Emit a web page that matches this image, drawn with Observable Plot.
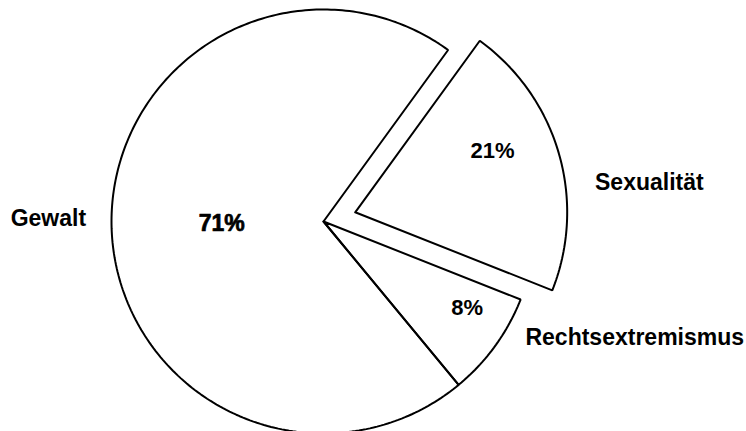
<!DOCTYPE html>
<html>
<head>
<meta charset="utf-8">
<script src="https://cdn.jsdelivr.net/npm/d3@7"></script>
<script src="https://cdn.jsdelivr.net/npm/@observablehq/plot@0.6"></script>
<style>
  html, body { margin: 0; padding: 0; background: #fff; }
  #chart svg { display: block; background: #fff; }
</style>
</head>
<body>
<div id="chart"></div>
<script>
// ---- data ----
const categories = ["Gewalt", "Sexualität", "Rechtsextremismus"];
const values = [71, 21, 8];
const percentLabels = ["71%", "21%", "8%"];

// ---- layout (not data) ----
const W = 746, H = 431;
const R = 212;                 // pie radius in scale units (= px)
const startDeg = 140.4;        // clockwise from north, where the first slice begins
const explode = {"Sexualität": 33};
const innerLabel = {           // radius fraction, angle shift (deg) from slice middle
  "Gewalt": [0.48, 0.8],
  "Sexualität": [0.71, -8],
  "Rechtsextremismus": [0.79, -5]
};
const outerLabel = {           // radius fraction, angle shift, anchor
  "Gewalt": [1.12, 2.6, "end"],
  "Sexualität": [1.14, 9.1, "start"],
  "Rechtsextremismus": [1.10, -6, "start"]
};

const rad = d => d * Math.PI / 180;
const pie = d3.pie().sort(null).value(d => d.value).startAngle(rad(startDeg)).endAngle(rad(startDeg + 360));
const arcs = pie(categories.map((name, i) => ({name, value: values[i], label: percentLabels[i]})));

const polar = (a, r) => [r * Math.sin(a), r * Math.cos(a)];

const outline = [];
const inner = [];
const outer = [];
for (const a of arcs) {
  const name = a.data.name;
  const mid = (a.startAngle + a.endAngle) / 2;
  const [ox, oy] = polar(mid, explode[name] || 0);
  outline.push({name, x: ox, y: oy});
  const steps = Math.max(2, Math.ceil((a.endAngle - a.startAngle) / rad(1)));
  for (let k = 0; k <= steps; k++) {
    const t = a.startAngle + (a.endAngle - a.startAngle) * k / steps;
    const [px, py] = polar(t, R);
    outline.push({name, x: ox + px, y: oy + py});
  }
  outline.push({name, x: ox, y: oy});
  const [ir, ishift] = innerLabel[name];
  const [ix, iy] = polar(mid + rad(ishift), R * ir);
  inner.push({name, x: ox + ix, y: oy + iy, text: a.data.label});
  const [orr, oshift, anchor] = outerLabel[name];
  const [tx, ty] = polar(mid + rad(oshift), R * orr);
  outer.push({name, x: ox + tx, y: oy + ty, text: name, anchor});
}

const font = "'Liberation Sans', Arial, sans-serif";
const chart = Plot.plot({
  width: W,
  height: H,
  margin: 0,
  x: {type: "linear", domain: [-323, W - 323], axis: null},
  y: {type: "linear", domain: [-(H - 221), 221], axis: null},
  style: {background: "#fff", fontFamily: font},
  marks: [
    Plot.line(outline, {x: "x", y: "y", z: "name", stroke: "#000", strokeWidth: 2, fill: "none", strokeLinejoin: "miter", curve: "linear"}),
    Plot.text(inner.filter(d => d.name === "Gewalt"), {x: "x", y: "y", text: "text", fontSize: 23, fontWeight: 900, stroke: "#000", strokeWidth: 0.7, fill: "#000"}),
    Plot.text(inner.filter(d => d.name !== "Gewalt"), {x: "x", y: "y", text: "text", fontSize: 22, fontWeight: "bold", fill: "#000"}),
    Plot.text(outer.filter(d => d.anchor === "end"), {x: "x", y: "y", text: "text", textAnchor: "end", fontSize: 23, fontWeight: "bold", fill: "#000"}),
    Plot.text(outer.filter(d => d.anchor === "start"), {x: "x", y: "y", text: "text", textAnchor: "start", fontSize: 23, fontWeight: "bold", fill: "#000"})
  ]
});
document.getElementById("chart").appendChild(chart);
</script>
</body>
</html>
